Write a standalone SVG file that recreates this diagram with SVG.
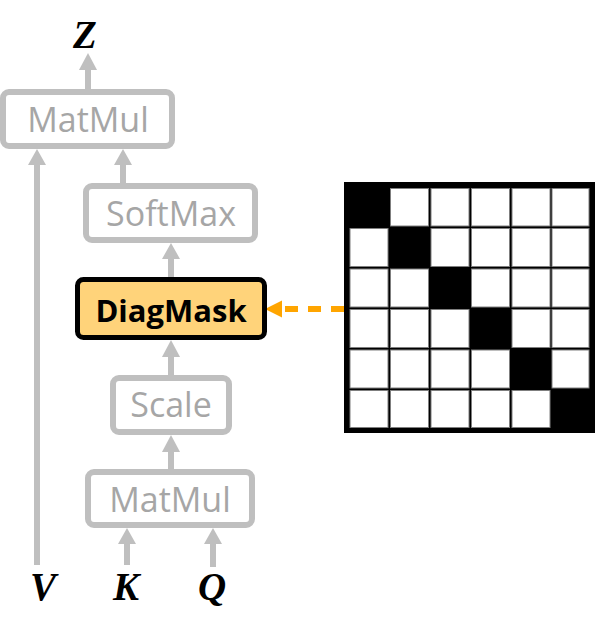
<svg xmlns="http://www.w3.org/2000/svg" width="595" height="633" viewBox="0 0 595 633">
<defs>
<style>
.box{fill:#fff;stroke:#BFBFBF;stroke-width:6}
.lbl{font-family:"Open Sans","Noto Sans",sans-serif;font-size:34px;fill:#A6A6A6;text-anchor:middle}
.var{font-family:"Liberation Serif","Times New Roman",serif;font-size:39px;font-weight:bold;font-style:italic;fill:#000;text-anchor:middle}
.edge{stroke:#BFBFBF;stroke-width:6;fill:none}
.ah{fill:#BFBFBF}
.cell{fill:#fff;stroke:#7F7F7F;stroke-width:1}
</style>
</defs>
<rect width="595" height="633" fill="#fff"/>
<g id="connectors">
<line class="edge" x1="88" y1="89" x2="88" y2="68"/>
<polygon class="ah" points="88,53 79,70 97,70"/>
<line class="edge" x1="37" y1="565" x2="37" y2="162"/>
<polygon class="ah" points="37,149 28,165 46,165"/>
<line class="edge" x1="123" y1="183" x2="123" y2="162"/>
<polygon class="ah" points="123,149 114,165 132,165"/>
<line class="edge" x1="171" y1="277" x2="171" y2="256"/>
<polygon class="ah" points="171,243 162,259 180,259"/>
<line class="edge" x1="171" y1="375" x2="171" y2="354"/>
<polygon class="ah" points="171,340 162,357 180,357"/>
<line class="edge" x1="171" y1="469" x2="171" y2="449"/>
<polygon class="ah" points="171,435 162,452 180,452"/>
<line class="edge" x1="127" y1="565" x2="127" y2="540"/>
<polygon class="ah" points="127,528 118,544 136,544"/>
<line class="edge" x1="213" y1="567" x2="213" y2="540"/>
<polygon class="ah" points="213,528 204,544 222,544"/>
<line x1="344" y1="309" x2="280" y2="309" stroke="#FFA500" stroke-width="6" stroke-dasharray="13,10"/>
<polygon points="265,309 282,300.5 282,317.5" fill="#FFA500"/>
</g>
<g id="matmul-top">
<rect class="box" x="3" y="92" width="169" height="54" rx="6"/>
<text class="lbl" x="88" y="132">MatMul</text>
</g>
<g id="softmax">
<rect class="box" x="86" y="186" width="169" height="54" rx="6"/>
<text class="lbl" x="171" y="226">SoftMax</text>
</g>
<g id="diagmask">
<rect x="77.5" y="279.5" width="187" height="58" rx="6" fill="#FFD37A" stroke="#000" stroke-width="5"/>
<text x="171" y="322" font-family="'Open Sans','Noto Sans',sans-serif" font-size="31" font-weight="bold" fill="#000" text-anchor="middle">DiagMask</text>
</g>
<g id="scale">
<rect class="box" x="113" y="378" width="116" height="54" rx="6"/>
<text class="lbl" x="171" y="417">Scale</text>
</g>
<g id="matmul-bottom">
<rect class="box" x="88" y="472" width="164" height="53" rx="6"/>
<text class="lbl" x="170" y="512">MatMul</text>
</g>
<g id="labels">
<text class="var" x="85" y="48">Z</text>
<text class="var" x="43" y="600">V</text>
<text class="var" x="126" y="600">K</text>
<text class="var" x="212" y="600">Q</text>
</g>
<g id="mask-matrix">
<rect x="344" y="182" width="251" height="251" fill="#000"/>
<g>
<rect class="cell" x="390.5" y="188.5" width="38" height="37.5"/>
<rect class="cell" x="431" y="188.5" width="38" height="37.5"/>
<rect class="cell" x="471.5" y="188.5" width="38" height="37.5"/>
<rect class="cell" x="512" y="188.5" width="38" height="37.5"/>
<rect class="cell" x="552" y="188.5" width="37" height="37.5"/>

<rect class="cell" x="350" y="228.5" width="38" height="38"/>
<rect class="cell" x="431" y="228.5" width="38" height="38"/>
<rect class="cell" x="471.5" y="228.5" width="38" height="38"/>
<rect class="cell" x="512" y="228.5" width="38" height="38"/>
<rect class="cell" x="552" y="228.5" width="37" height="38"/>

<rect class="cell" x="350" y="269" width="38" height="38"/>
<rect class="cell" x="390.5" y="269" width="38" height="38"/>
<rect class="cell" x="471.5" y="269" width="38" height="38"/>
<rect class="cell" x="512" y="269" width="38" height="38"/>
<rect class="cell" x="552" y="269" width="37" height="38"/>

<rect class="cell" x="350" y="309.5" width="38" height="38"/>
<rect class="cell" x="390.5" y="309.5" width="38" height="38"/>
<rect class="cell" x="431" y="309.5" width="38" height="38"/>
<rect class="cell" x="512" y="309.5" width="38" height="38"/>
<rect class="cell" x="552" y="309.5" width="37" height="38"/>

<rect class="cell" x="350" y="350" width="38" height="38"/>
<rect class="cell" x="390.5" y="350" width="38" height="38"/>
<rect class="cell" x="431" y="350" width="38" height="38"/>
<rect class="cell" x="471.5" y="350" width="38" height="38"/>
<rect class="cell" x="552" y="350" width="37" height="38"/>

<rect class="cell" x="350" y="390.5" width="38" height="37"/>
<rect class="cell" x="390.5" y="390.5" width="38" height="37"/>
<rect class="cell" x="431" y="390.5" width="38" height="37"/>
<rect class="cell" x="471.5" y="390.5" width="38" height="37"/>
<rect class="cell" x="512" y="390.5" width="38" height="37"/>
</g>
</g>
</svg>
